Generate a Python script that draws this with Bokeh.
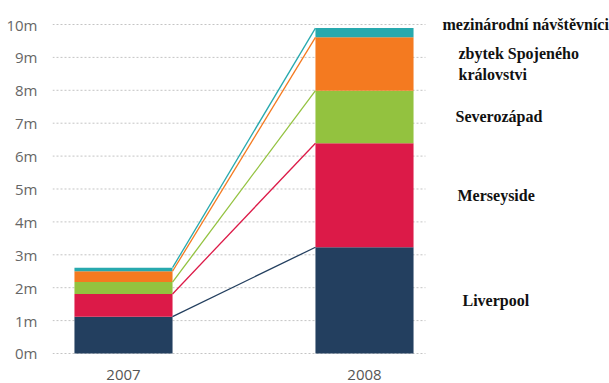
from bokeh.plotting import figure
from bokeh.models import ColumnDataSource, FixedTicker, Label, Range1d
from bokeh.embed import file_html
from bokeh.resources import INLINE

# ---- data (millions of visitors) ----
years = ["2007", "2008"]
series = ["Liverpool", "Merseyside", "Severozápad", "zbytek Spojeného\nkrálovstvi", "mezinárodní návštěvníci"]
liverpool = [1.12, 3.23]
merseyside = [0.69, 3.16]
severozapad = [0.36, 1.60]
zbytek = [0.33, 1.62]
mezinarodni = [0.11, 0.28]
colors = ["#233f5f", "#dc1a48", "#93c23f", "#f47a20", "#27a9ae"]
y_ticks = [0, 1, 2, 3, 4, 5, 6, 7, 8, 9, 10]
y_tick_labels = ["0m", "1m", "2m", "3m", "4m", "5m", "6m", "7m", "8m", "9m", "10m"]

values = [liverpool, merseyside, severozapad, zbytek, mezinarodni]
keys = ["s0", "s1", "s2", "s3", "s4"]
xpos = list(range(len(years)))
BAR_W = 0.407
X_START, X_END = -0.2946, 2.0166
GRID_END = 1.2531

src = ColumnDataSource(dict(x=xpos, **{k: v for k, v in zip(keys, values)}))

p = figure(width=609, height=383, output_backend="svg", toolbar_location=None,
           x_range=Range1d(X_START, X_END), y_range=Range1d(-0.912, 10.7295),
           min_border_left=52, min_border_right=0, min_border_top=0, min_border_bottom=0)
p.outline_line_color = None
p.background_fill_color = "white"
p.border_fill_color = "white"

# dotted horizontal guide lines at the y ticks
p.segment(x0=[X_START] * len(y_ticks), y0=y_ticks, x1=[GRID_END] * len(y_ticks), y1=y_ticks,
          line_color="#c4c4c4", line_dash="2 2", line_width=1)

p.vbar_stack(keys, x="x", width=BAR_W, color=colors, source=src, line_color=None)

# connecting lines between the stack tops
cum0, cum1 = 0.0, 0.0
tops = []
for v, c in zip(values, colors):
    cum0 += v[0]
    cum1 += v[1]
    tops.append((cum0, cum1))
    p.segment(x0=[xpos[0] + BAR_W / 2], y0=[cum0], x1=[xpos[1] - BAR_W / 2], y1=[cum1],
              line_color=c, line_width=1.3)

# y axis
p.yaxis.ticker = FixedTicker(ticks=y_ticks)
p.yaxis.major_label_overrides = {t: l for t, l in zip(y_ticks, y_tick_labels)}
p.yaxis.axis_line_color = None
p.yaxis.major_tick_line_color = None
p.yaxis.minor_tick_line_color = None
p.yaxis.major_label_standoff = 9
p.yaxis.major_label_text_font = "Open Sans"
p.yaxis.major_label_text_font_size = "15px"
p.yaxis.major_label_text_color = "#666666"

p.xaxis.visible = False
p.xgrid.grid_line_color = None
p.ygrid.grid_line_color = None

# year labels under bars
for xi, yr in zip(xpos, years):
    p.add_layout(Label(x=xi, y=0, y_offset=-22, text=yr, text_align="center",
                       text_baseline="middle", text_font="Open Sans",
                       text_font_size="15px", text_color="#555555"))

# series labels right of the 2008 bar, at segment midpoints
x_offsets = [98, 93, 91, 94, 78]
y_offsets = [0, 0, 0, 0, 8]
prev = 0.0
for (t0, t1), name, xo, yo in zip(tops, series, x_offsets, y_offsets):
    mid = (prev + t1) / 2
    prev = t1
    p.add_layout(Label(x=xpos[1], y=mid, x_offset=xo, y_offset=yo, text=name,
                       text_align="left", text_baseline="middle",
                       text_font="Liberation Serif", text_font_style="bold",
                       text_font_size="16px", text_color="#111111",
                       text_line_height=1.25))

open("out.html", "w").write(file_html(p, INLINE))
